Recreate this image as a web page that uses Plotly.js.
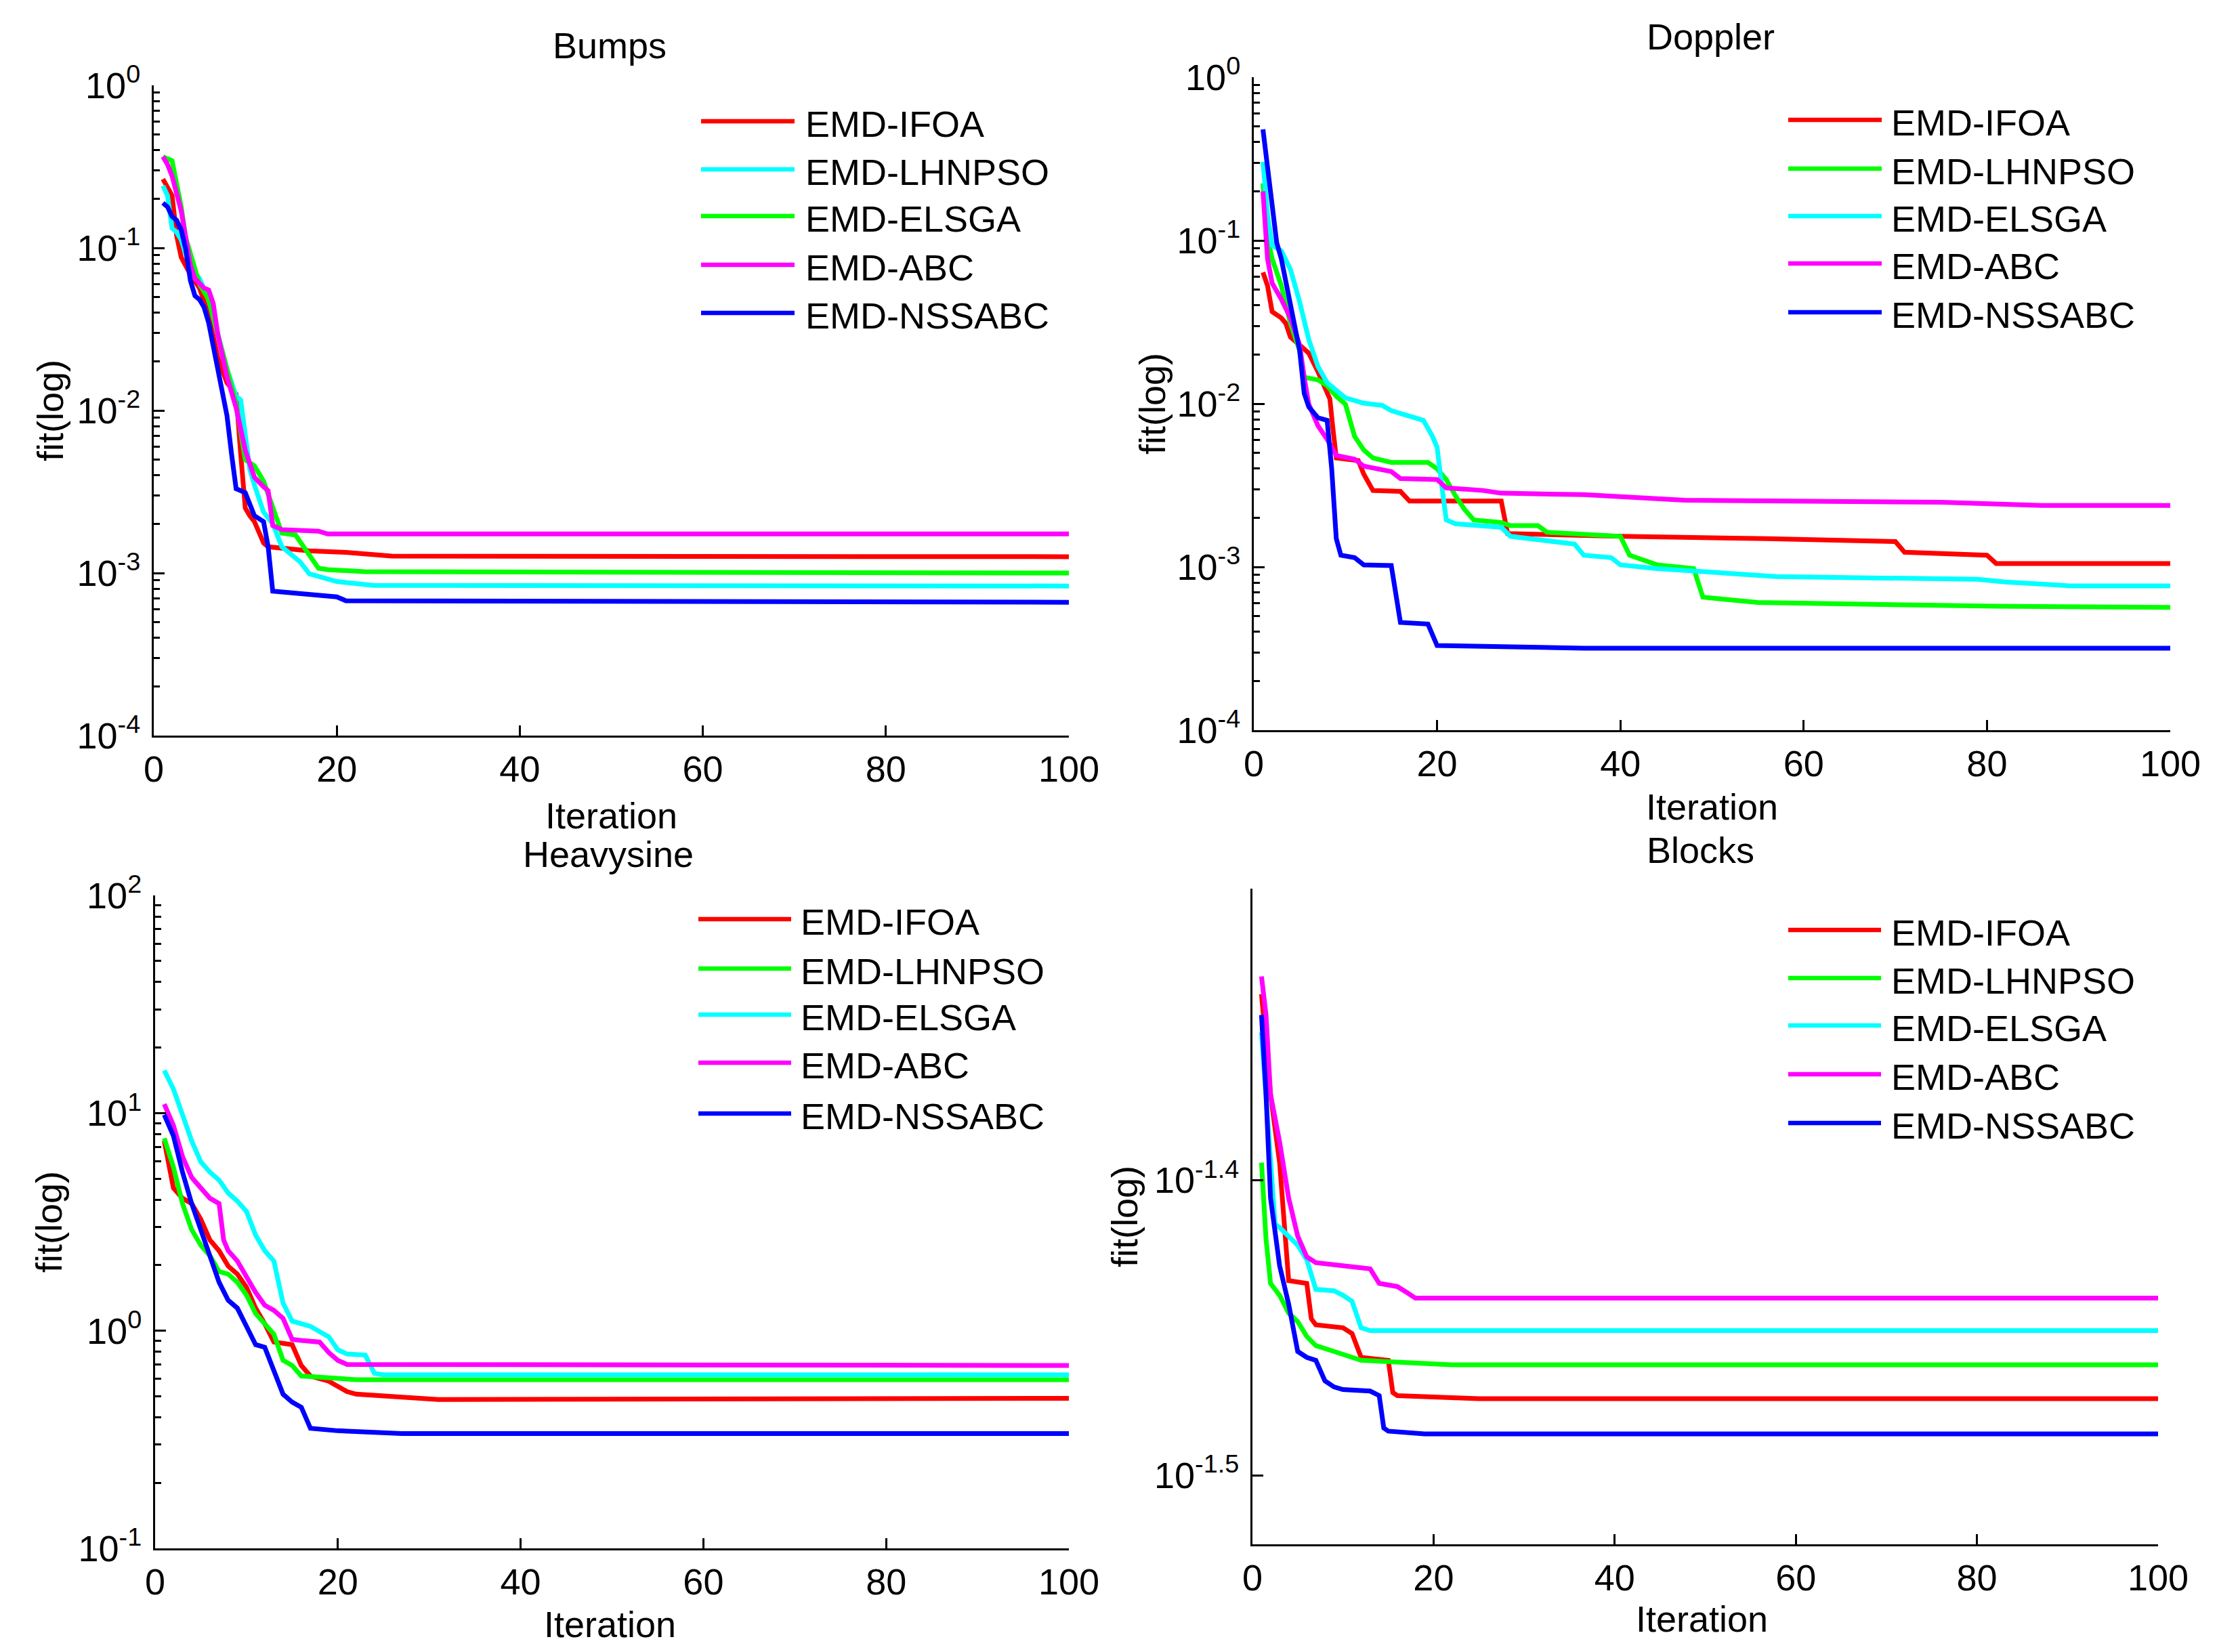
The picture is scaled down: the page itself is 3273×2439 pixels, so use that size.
<!DOCTYPE html>
<html>
<head>
<meta charset="utf-8">
<script src="https://cdn.plot.ly/plotly-3.0.1.min.js"></script>
<style>
  body { margin: 0; background: #fff; }
  #plot1 { width: 3273px; height: 2439px; }
</style>
</head>
<body>
<div id="plot1"></div>
<script>

///////////////////////////////////////////////  data  /////////////////////////////////////////////////////////

var seriesNames = ['EMD-IFOA', 'EMD-LHNPSO', 'EMD-ELSGA', 'EMD-ABC', 'EMD-NSSABC'];
var xTickVals = [0, 20, 40, 60, 80, 100];
var xTickText = ['0', '20', '40', '60', '80', '100'];

// Bumps
var bumpsIfoaX = [1,2,2.5,3,4,5,6,7,8,8.5,9,9.5,10,10.5,11,12,12.5,17,21,26,100];
var bumpsIfoaY = [0.265,0.210,0.119,0.0877,0.0686,0.0566,0.0386,0.0211,0.0148,0.01365,0.0126,0.0054,0.00251,0.00225,0.00207,0.00153,0.00145,0.00137,0.00134,0.00127,0.00126];
var bumpsLhnpsoX = [1,1.5,2,2.5,3,4,5,6,7,8,9,9.5,10,10.5,11,12,13,14,16,17,20,24,100];
var bumpsLhnpsoY = [0.241,0.210,0.132,0.125,0.112,0.0745,0.0649,0.0481,0.0294,0.0180,0.01225,0.0116,0.00708,0.00434,0.00348,0.00237,0.00201,0.00145,0.00117,0.000989,0.000887,0.000839,0.000832];
var bumpsElsgaX = [1,2,2.5,3,3.5,4,5,6,7,8,9,10,11,12,13,14,15.5,17,18,19,23,100];
var bumpsElsgaY = [0.364,0.344,0.248,0.179,0.115,0.0927,0.0598,0.0481,0.0294,0.0170,0.0110,0.00497,0.00457,0.00367,0.00251,0.00176,0.00171,0.00130,0.00107,0.00105,0.00102,0.00100];
var bumpsAbcX = [1,1.5,2,3,4,4.5,5.5,6,6.5,7,8,9,10,11,12,12.5,13,14,18,19,100];
var bumpsAbcY = [0.364,0.326,0.277,0.169,0.0785,0.0649,0.0566,0.0551,0.0455,0.0294,0.0161,0.0104,0.00569,0.00388,0.00339,0.00321,0.00196,0.00185,0.00181,0.00174,0.00174];
var bumpsNssabcX = [1,1.5,2,2.5,3,3.5,4,4.5,5,5.5,6,7,8,8.5,9,10,11,12,12.5,13,15,18,20,21,100];
var bumpsNssabcY = [0.189,0.179,0.156,0.148,0.129,0.0977,0.0631,0.0507,0.0481,0.0431,0.0346,0.0180,0.00931,0.0054,0.0033,0.00312,0.00225,0.00207,0.00145,0.000773,0.000752,0.000733,0.000713,0.000675,0.000661];
var bumpsTickVals = [0.0001, 0.001, 0.01, 0.1, 1];
var bumpsTickText = ['10<sup>-4</sup>', '10<sup>-3</sup>', '10<sup>-2</sup>', '10<sup>-1</sup>', '10<sup>0</sup>'];

// Doppler
var dopIfoaX = [1,1.5,2,3,3.5,4,5,6,7,7.6,8.3,8.6,9,11.4,12,13,16,17,27,27.7,40,56,70,71,80,81,100];
var dopIfoaY = [0.0638,0.0528,0.0366,0.0335,0.0310,0.0256,0.0229,0.0204,0.0157,0.0129,0.0107,0.00733,0.00465,0.00448,0.00370,0.00294,0.0029,0.00253,0.00253,0.00160,0.00154,0.00149,0.00143,0.00123,0.00118,0.00105,0.00105];
var dopLhnpsoX = [1,1.5,2,3,4,5,5.5,7,8,9,10,10.5,11,12,13,15,19,20,21,22,23,24,27,28,31,32,40,41,44,48,49,55,81,100];
var dopLhnpsoY = [0.224,0.105,0.0773,0.0528,0.0310,0.0212,0.0145,0.0140,0.0129,0.0111,0.00993,0.00791,0.0063,0.0052,0.00465,0.00437,0.00437,0.00399,0.00343,0.00273,0.00225,0.00194,0.00187,0.00179,0.00179,0.00163,0.00154,0.00118,0.00103,0.000977,0.000653,0.000605,0.000574,0.000565];
var dopElsgaX = [1,1.5,2,3,4,5,6,7,8,9,10,12,14,15,17,18.5,19.5,20,20.5,21,22,27,28,32,35,36,39,40,44,57,79,82,89,100];
var dopElsgaY = [0.303,0.142,0.0933,0.0865,0.0664,0.0421,0.0247,0.0169,0.01346,0.0120,0.01086,0.01007,0.00977,0.00906,0.00839,0.00791,0.0063,0.00541,0.00318,0.00194,0.00184,0.00175,0.00154,0.00145,0.00138,0.00118,0.00114,0.00103,0.000977,0.000873,0.000839,0.000809,0.000766,0.000766];
var dopAbcX = [1,1.5,2,3,4,5,5.5,6,7,8,9,11,12,15,16,20,21,25,27,36,47,75,86,100];
var dopAbcY = [0.200,0.0773,0.0548,0.0437,0.0335,0.0229,0.0145,0.00993,0.00733,0.00605,0.00482,0.00457,0.00414,0.00384,0.00348,0.00343,0.00305,0.00294,0.00283,0.00277,0.00256,0.00249,0.00238,0.00238];
var dopNssabcX = [1,1.5,2,2.5,3,4,5,5.5,6,7,8,8.5,9,9.5,11,12,15,16,19,20,36,100];
var dopNssabcY = [0.479,0.281,0.178,0.0970,0.0773,0.0390,0.0212,0.01156,0.00955,0.0082,0.00791,0.00399,0.00149,0.00118,0.00114,0.00103,0.00102,0.000457,0.000447,0.00033,0.000318,0.000318];

// Heavysine
var heavyIfoaX = [1,1.5,2,3,4,5,6,7,8,9,10,11,12,13,15,16,17,19,21,22,27,31,100];
var heavyIfoaY = [7.45,5.65,4.53,4.06,3.84,3.25,2.61,2.33,1.98,1.82,1.585,1.27,1.076,0.887,0.863,0.692,0.619,0.586,0.525,0.511,0.497,0.483,0.489];
var heavyLhnpsoX = [1,2,3,4,5,6,7,8,9,10,11,12,13,14,15,16,20,22,100];
var heavyLhnpsoY = [7.66,5.65,3.84,2.91,2.47,2.21,1.87,1.82,1.67,1.46,1.20,1.076,0.964,0.731,0.692,0.619,0.603,0.596,0.596];
var heavyElsgaX = [1,2,3,4,5,6,7,8,9,10,11,12,13,14,15,16,17,18,19,20,21,23,24,25,100];
var heavyElsgaY = [15.7,12.9,9.82,7.45,5.97,5.35,4.92,4.29,3.94,3.53,2.75,2.33,2.09,1.34,1.107,1.076,1.047,0.991,0.938,0.817,0.782,0.773,0.637,0.627,0.627];
var heavyAbcX = [1,2,3,4,5,6,7,7.5,8,9,10,11,12,13,14,15,16,18,19,20,21,100];
var heavyAbcY = [11.0,8.79,6.31,5.06,4.53,4.06,3.84,2.61,2.33,2.09,1.77,1.50,1.31,1.24,1.14,0.912,0.902,0.887,0.794,0.731,0.700,0.692];
var heavyNssabcX = [1,2,3,4,5,6,7,8,9,10,11,12,13,14,15,16,17,20,27,100];
var heavyNssabcY = [9.82,7.87,5.35,3.84,2.91,2.21,1.67,1.38,1.27,1.047,0.863,0.839,0.655,0.511,0.470,0.445,0.356,0.347,0.337,0.337];
var heavyTickVals = [0.1, 1, 10, 100];
var heavyTickText = ['10<sup>-1</sup>', '10<sup>0</sup>', '10<sup>1</sup>', '10<sup>2</sup>'];

// Blocks
var blkIfoaX = [1,2,3,3.5,4,6,6.5,7,10,11,12,15,15.5,16,25,100];
var blkIfoaY = [0.04603,0.04256,0.04036,0.03828,0.03681,0.03673,0.03573,0.03556,0.03548,0.03532,0.03467,0.03459,0.03373,0.03365,0.03357,0.03357];
var blkLhnpsoX = [1,1.5,2,3,4,5,6,7,9,10,12,22,100];
var blkLhnpsoY = [0.04036,0.03802,0.03673,0.03639,0.03589,0.03565,0.03524,0.03499,0.03483,0.03475,0.03459,0.03447,0.03447];
var blkElsgaX = [1,1.5,2,2.5,3,4,5,6,7,9,10,11,12,13,100];
var blkElsgaY = [0.04467,0.04236,0.04018,0.03846,0.03837,0.03811,0.03784,0.03741,0.03656,0.03652,0.03639,0.03622,0.03548,0.0354,0.0354];
var blkAbcX = [1,1.5,2,3,4,5,6,7,10,13,14,16,17,18,100];
var blkAbcY = [0.04667,0.04529,0.04256,0.04102,0.03926,0.03811,0.03750,0.03733,0.03724,0.03715,0.03673,0.03664,0.03648,0.03631,0.03631];
var blkNssabcX = [1,1.5,2,3,4,5,6,7,8,9,10,13,14,14.5,15,19,100];
var blkNssabcY = [0.04529,0.04256,0.03926,0.03724,0.03614,0.03483,0.03467,0.03459,0.03404,0.03388,0.03381,0.03377,0.03365,0.03281,0.03273,0.03266,0.03266];
var blkTickVals = [0.0316228, 0.0398107];
var blkTickText = ['10<sup>-1.5</sup>', '10<sup>-1.4</sup>'];

///////////////////////////////////////////////  layout helpers  /////////////////////////////////////////////////////////

var W = 3273, H = 2439;
var FONT = 'Liberation Sans, Arial, sans-serif';
var FS = 54;
var RED = '#ff0000', GREEN = '#00ff00', CYAN = '#00ffff', MAGENTA = '#ff00ff', BLUE = '#0000ff';

function px(x) { return x / W; }
function py(y) { return 1 - y / H; }

// 2..9 x 10^k inside the log range, for MATLAB style minor ticks
function minorLogTicks(lo, hi) {
  var vals = [];
  for (var k = Math.floor(lo); k < Math.ceil(hi); k++) {
    for (var m = 2; m <= 9; m++) {
      var v = m * Math.pow(10, k);
      if (Math.log10(v) > lo && Math.log10(v) < hi) vals.push(v);
    }
  }
  return vals;
}

function xAxis(x0, x1, anchor) {
  return {
    domain: [px(x0), px(x1)], anchor: anchor, range: [0, 100],
    showline: true, linecolor: 'black', linewidth: 3, mirror: false,
    ticks: 'inside', ticklen: 15, tickwidth: 3, tickcolor: 'black',
    tickmode: 'array', tickvals: xTickVals, ticktext: xTickText,
    ticklabelstandoff: 0,
    showgrid: false, zeroline: false, automargin: false,
    tickfont: {family: FONT, size: FS, color: 'black'}
  };
}

function yAxis(y0, y1, anchor, range, tickVals, tickText, withMinor) {
  var ax = {
    domain: [py(y1), py(y0)], anchor: anchor, type: 'log', range: range,
    showline: true, linecolor: 'black', linewidth: 3, mirror: false,
    ticks: 'inside', ticklen: 16, tickwidth: 3, tickcolor: 'black',
    tickmode: 'array', tickvals: tickVals, ticktext: tickText,
    ticklabelstandoff: 6,
    showgrid: false, zeroline: false, automargin: false,
    tickfont: {family: FONT, size: FS, color: 'black'}
  };
  if (withMinor) {
    ax.minor = {ticks: 'inside', ticklen: 9, tickwidth: 3, tickcolor: 'black',
                tickmode: 'array', tickvals: minorLogTicks(range[0], range[1]), showgrid: false};
  }
  return ax;
}

function trace(x, y, color, xa, ya) {
  return {x: x, y: y, type: 'scatter', mode: 'lines', xaxis: xa, yaxis: ya,
          line: {color: color, width: 7}, showlegend: false, hoverinfo: 'skip'};
}

var annotations = [];
var shapes = [];

function label(text, x, y, opts) {
  var a = {text: text, x: px(x), y: py(y), xref: 'paper', yref: 'paper', showarrow: false,
           xanchor: 'center', yanchor: 'middle', font: {family: FONT, size: FS, color: 'black'}};
  for (var k in opts) a[k] = opts[k];
  annotations.push(a);
}

// legend drawn by hand so the sample lines get MATLAB's length
function legendBox(lineX0, lineX1, textX, rows, colors) {
  for (var i = 0; i < rows.length; i++) {
    shapes.push({type: 'line', xref: 'paper', yref: 'paper',
                 x0: px(lineX0), x1: px(lineX1), y0: py(rows[i]), y1: py(rows[i]),
                 line: {color: colors[i], width: 6.5}});
    label(seriesNames[i], textX, rows[i] + 4, {xanchor: 'left'});
  }
}

/////////////////////////////////////////////  panels  /////////////////////////////////////////////////////////

var colorsBumps = [RED, CYAN, GREEN, MAGENTA, BLUE];
var colorsOther = [RED, GREEN, CYAN, MAGENTA, BLUE];

var data = [
  trace(bumpsIfoaX, bumpsIfoaY, colorsBumps[0], 'x', 'y'),
  trace(bumpsLhnpsoX, bumpsLhnpsoY, colorsBumps[1], 'x', 'y'),
  trace(bumpsElsgaX, bumpsElsgaY, colorsBumps[2], 'x', 'y'),
  trace(bumpsAbcX, bumpsAbcY, colorsBumps[3], 'x', 'y'),
  trace(bumpsNssabcX, bumpsNssabcY, colorsBumps[4], 'x', 'y'),

  trace(dopIfoaX, dopIfoaY, colorsOther[0], 'x2', 'y2'),
  trace(dopLhnpsoX, dopLhnpsoY, colorsOther[1], 'x2', 'y2'),
  trace(dopElsgaX, dopElsgaY, colorsOther[2], 'x2', 'y2'),
  trace(dopAbcX, dopAbcY, colorsOther[3], 'x2', 'y2'),
  trace(dopNssabcX, dopNssabcY, colorsOther[4], 'x2', 'y2'),

  trace(heavyIfoaX, heavyIfoaY, colorsOther[0], 'x3', 'y3'),
  trace(heavyLhnpsoX, heavyLhnpsoY, colorsOther[1], 'x3', 'y3'),
  trace(heavyElsgaX, heavyElsgaY, colorsOther[2], 'x3', 'y3'),
  trace(heavyAbcX, heavyAbcY, colorsOther[3], 'x3', 'y3'),
  trace(heavyNssabcX, heavyNssabcY, colorsOther[4], 'x3', 'y3'),

  trace(blkIfoaX, blkIfoaY, colorsOther[0], 'x4', 'y4'),
  trace(blkLhnpsoX, blkLhnpsoY, colorsOther[1], 'x4', 'y4'),
  trace(blkElsgaX, blkElsgaY, colorsOther[2], 'x4', 'y4'),
  trace(blkAbcX, blkAbcY, colorsOther[3], 'x4', 'y4'),
  trace(blkNssabcX, blkNssabcY, colorsOther[4], 'x4', 'y4')
];

// titles and axis labels
label('Bumps', 900, 67);
label('Doppler', 2525, 54);
label('Heavysine', 898, 1261);
label('Blocks', 2510, 1255);
label('Iteration', 902, 1204);
label('Iteration', 2527, 1191);
label('Iteration', 900, 2398);
label('Iteration', 2512, 2390);
label('fit(log)', 74, 606, {textangle: -90});
label('fit(log)', 1701, 596, {textangle: -90});
label('fit(log)', 72, 1804, {textangle: -90});
label('fit(log)', 1660, 1796, {textangle: -90});

legendBox(1035, 1173, 1187, [179, 250, 319, 391, 462], colorsBumps);
legendBox(2640, 2778, 2790, [177, 249, 319, 389, 461], colorsOther);
legendBox(1031, 1168, 1180, [1357, 1430, 1498, 1569, 1644], colorsOther);
legendBox(2640, 2777, 2790, [1373, 1444, 1514, 1586, 1658], colorsOther);

var layout = {
  width: W, height: H, autosize: false,
  margin: {l: 0, r: 0, t: 0, b: 0},
  paper_bgcolor: 'white', plot_bgcolor: 'white',
  showlegend: false,
  xaxis: xAxis(227, 1578, 'y'),
  yaxis: yAxis(126, 1086, 'x', [-4, 0], bumpsTickVals, bumpsTickText, true),
  xaxis2: xAxis(1851, 3204, 'y2'),
  yaxis2: yAxis(114, 1078, 'x2', [-4, 0], bumpsTickVals, bumpsTickText, true),
  xaxis3: xAxis(229, 1578, 'y3'),
  yaxis3: yAxis(1322, 2286, 'x3', [-1, 2], heavyTickVals, heavyTickText, true),
  xaxis4: xAxis(1849, 3186, 'y4'),
  yaxis4: yAxis(1312, 2280, 'x4', [-1.5234, -1.3012], blkTickVals, blkTickText, false),
  annotations: annotations,
  shapes: shapes
};

Plotly.newPlot('plot1', data, layout, {displayModeBar: false, responsive: false});

</script>
</body>
</html>
